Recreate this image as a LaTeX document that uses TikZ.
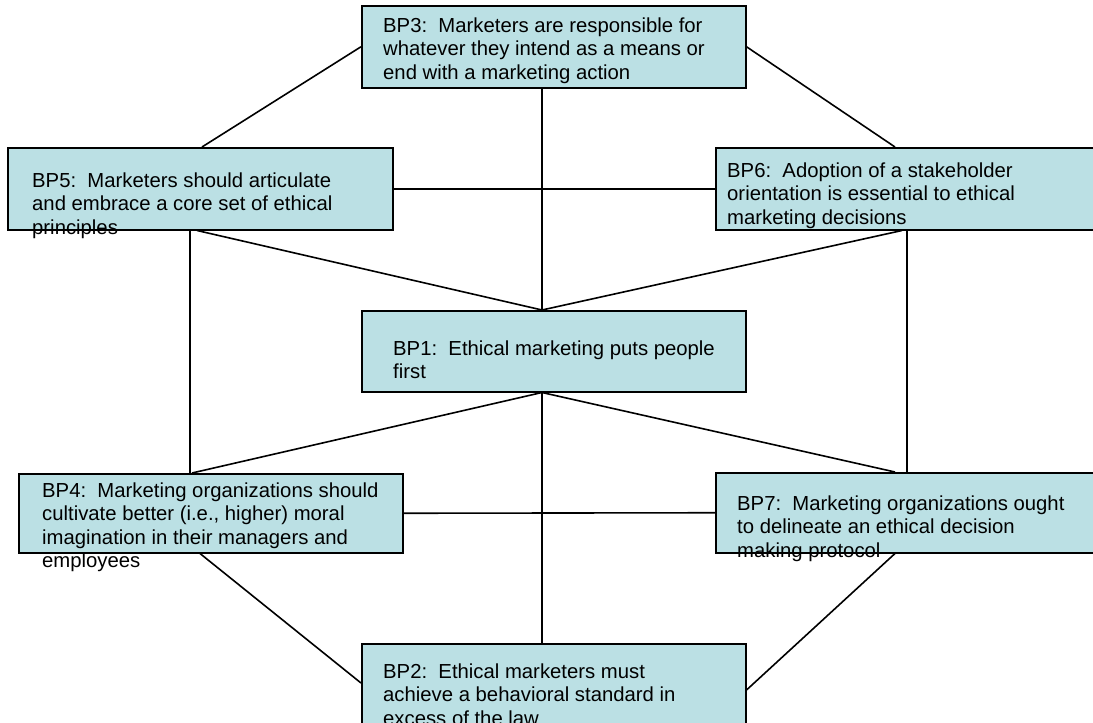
\documentclass[tikz,border=0pt]{standalone}
\usepackage{fontspec}
\setmainfont{Liberation Sans}
\usetikzlibrary{calc}
\definecolor{boxfill}{RGB}{187,224,228}
\tikzset{
  bpbox/.style={draw=black, fill=boxfill, line width=1.5pt, rectangle, anchor=north west, inner sep=0pt},
  bptext/.style={anchor=base west, inner sep=0pt, align=left, font=\fontsize{20.3}{23.5}\selectfont},
  link/.style={draw=black, line width=1.6pt}
}
\begin{document}
\begin{tikzpicture}[x=1pt,y=-1pt]
\useasboundingbox (0,0) rectangle (1093,723);
\fill[white] (0,0) rectangle (1093,723);
% boxes
\node[bpbox, minimum width=384pt, minimum height=82pt] (b3) at (361,5) {};
\node[bpbox, minimum width=385pt, minimum height=82pt] (b5) at (7,147) {};
\node[bpbox, minimum width=390pt, minimum height=82pt] (b6) at (715,147) {};
\node[bpbox, minimum width=384pt, minimum height=81pt] (b1) at (361,310) {};
\node[bpbox, minimum width=384pt, minimum height=79pt] (b4) at (18,473) {};
\node[bpbox, minimum width=390pt, minimum height=80pt] (b7) at (715,472) {};
\node[bpbox, minimum width=384pt, minimum height=100pt] (b2) at (361,643) {};
% connectors
\draw[link] ([xshift=181pt]b3.south west) -- ([xshift=181pt]b1.north west);
\draw[link] (b3.west) -- ([xshift=195pt]b5.north west);
\draw[link] (b3.east) -- ([xshift=180pt]b6.north west);
\draw[link] (b5.east) -- (b6.west);
\draw[link] ([xshift=190pt]b5.south west) -- ([xshift=181pt]b1.north west);
\draw[link] ([xshift=187pt]b6.south west) -- ([xshift=181pt]b1.north west);
\draw[link] ([xshift=183pt]b5.south west) -- ([xshift=172pt]b4.north west);
\draw[link] ([xshift=192pt]b6.south west) -- ([xshift=192pt]b7.north west);
\draw[link] ([xshift=181pt]b1.south west) -- ([xshift=174pt]b4.north west);
\draw[link] ([xshift=181pt]b1.south west) -- ([xshift=180pt]b7.north west);
\draw[link] ([xshift=181pt]b1.south west) -- ([xshift=181pt]b2.north west);
\draw[link] (b4.east) -- (b7.west);
\draw[link] ([xshift=182pt]b4.south west) -- ([yshift=-40pt]b2.north west);
\draw[link] ([xshift=180pt]b7.south west) -- ([yshift=-47pt]b2.north east);
% texts (anchored at the baseline of the last line)
\node[bptext] (t3) at (383,79) {BP3:\ \ Marketers are responsible for\\whatever they intend as a means or\\end with a marketing action};
\node[bptext] (t5) at (32,234) {BP5:\ \ Marketers should articulate\\and embrace a core set of ethical\\principles};
\node[bptext] (t6) at (727,224) {BP6:\ \ Adoption of a stakeholder\\orientation is essential to ethical\\marketing decisions};
\node[bptext] (t1) at (393,378.5) {BP1:\ \ Ethical marketing puts people\\first};
\node[bptext] (t4) at (42,567.5) {BP4:\ \ Marketing organizations should\\cultivate better (i.e., higher) moral\\imagination in their managers and\\employees};
\node[bptext] (t7) at (737,557) {BP7:\ \ Marketing organizations ought\\to delineate an ethical decision\\making protocol};
\node[bptext] (t2) at (383,725) {BP2:\ \ Ethical marketers must\\achieve a behavioral standard in\\excess of the law};
\end{tikzpicture}
\end{document}
